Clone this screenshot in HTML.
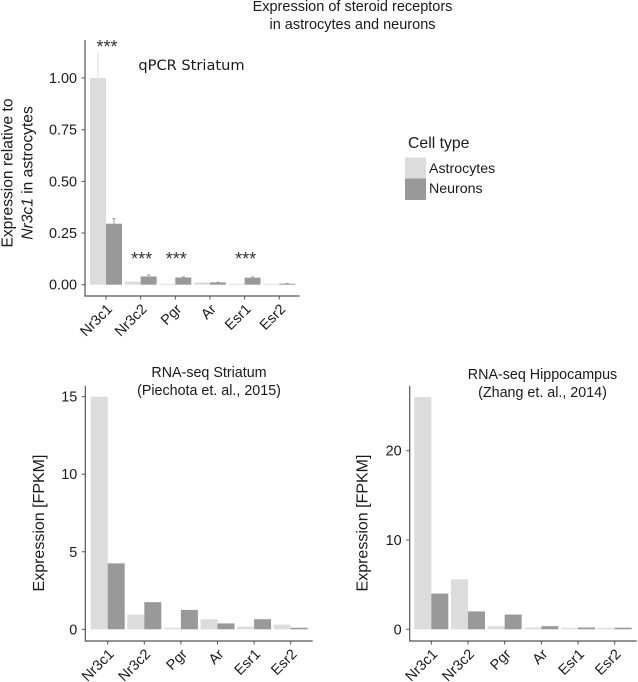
<!DOCTYPE html>
<html>
<head>
<meta charset="utf-8">
<style>
html,body{margin:0;padding:0;background:#fff;}
svg{display:block;}
text{font-family:"Liberation Sans",sans-serif;fill:#1a1a1a;}
</style>
</head>
<body>
<svg id="chart" xmlns="http://www.w3.org/2000/svg" width="638" height="682" viewBox="0 0 638 682">
<g style="filter:blur(0.35px)" id="root">
<text x="352.5" y="11" text-anchor="middle" font-size="14.5">Expression of steroid receptors</text>
<text x="352.5" y="29" text-anchor="middle" font-size="14.5">in astrocytes and neurons</text>

<text x="408" y="148" font-size="15.8">Cell type</text>
<rect x="405" y="157.5" width="21" height="21" fill="#dcdcdc"/>
<rect x="405" y="178.5" width="21" height="21.5" fill="#999999"/>
<text x="429" y="173" font-size="14.2">Astrocytes</text>
<text x="429" y="193" font-size="14.2">Neurons</text>

<text x="191.5" y="70" text-anchor="middle" font-size="14.6" style="font-family:'DejaVu Sans',sans-serif">qPCR Striatum</text>
<text transform="translate(12.5,173) rotate(-90)" text-anchor="middle" font-size="15.6">Expression relative to</text>
<text transform="translate(32.5,173) rotate(-90)" text-anchor="middle" font-size="15.6"><tspan font-style="italic">Nr3c1</tspan> in astrocytes</text>

<text x="209" y="377" text-anchor="middle" font-size="14.3">RNA-seq Striatum</text>
<text x="209" y="395" text-anchor="middle" font-size="14.3">(Piechota et. al., 2015)</text>
<text transform="translate(44,523) rotate(-90)" text-anchor="middle" font-size="16">Expression [FPKM]</text>

<text x="542.5" y="379" text-anchor="middle" font-size="14.3">RNA-seq Hippocampus</text>
<text x="542.5" y="397" text-anchor="middle" font-size="14.3">(Zhang et. al., 2014)</text>
<text transform="translate(367.5,523) rotate(-90)" text-anchor="middle" font-size="16">Expression [FPKM]</text>
</g>
</svg>
<script>
var genes = ['Nr3c1', 'Nr3c2', 'Pgr', 'Ar', 'Esr1', 'Esr2'];

var qpcrAstrocytes = [1.0, 0.015, 0.004, 0.011, 0.004, 0.004];
var qpcrNeurons = [0.295, 0.04, 0.035, 0.011, 0.034, 0.005];
var qpcrAstrocytesErrorTop = [1.13, 0.018, 0.005, 0.012, 0.005, 0.005];
var qpcrNeuronsErrorTop = [0.32, 0.047, 0.038, 0.012, 0.037, 0.006];
var qpcrTicks = ['0.00', '0.25', '0.50', '0.75', '1.00'];
var qpcrStars = ['***', '***', '***', '', '***', ''];
var qpcrStarLevels = [1.165, 0.138, 0.138, 0, 0.138, 0];

var striatumAstrocytes = [15, 0.95, 0.1, 0.65, 0.18, 0.3];
var striatumNeurons = [4.25, 1.75, 1.25, 0.38, 0.65, 0.1];
var striatumTicks = ['0', '5', '10', '15'];

var hippocampusAstrocytes = [26, 5.6, 0.35, 0.2, 0.17, 0.17];
var hippocampusNeurons = [4, 2, 1.65, 0.35, 0.2, 0.18];
var hippocampusTicks = ['0', '10', '20'];

var root = document.getElementById('root');
var NS = 'http://www.w3.org/2000/svg';
var ASTRO = '#dcdcdc';
var NEURON = '#999999';
var AXIS = '#555555';

function node(tag, attrs, parent) {
  var el = document.createElementNS(NS, tag);
  for (var k in attrs) el.setAttribute(k, attrs[k]);
  parent.appendChild(el);
  return el;
}

function drawPanel(p) {
  var g = node('g', {}, root);
  
  

  function xCenter(i) { return p.x0 + p.step * i; }
  function yScale(v) { return p.yZero - p.yPerUnit * v; }

  genes.forEach(function (gene, i) {
    var xc = xCenter(i);
    var a = p.astro[i];
    var n = p.neuron[i];

    if (p.astroErr) {
      var ea = node('line', { x1: xc - p.barW / 2, x2: xc - p.barW / 2, y1: yScale(a), y2: yScale(p.astroErr[i]), stroke: ASTRO, 'stroke-width': 1 }, g);
      
      
      var en = node('line', { x1: xc + p.barW / 2, x2: xc + p.barW / 2, y1: yScale(n), y2: yScale(p.neuronErr[i]), stroke: NEURON, 'stroke-width': 1 }, g);
      
      
      var ec = node('line', { x1: xc + p.barW / 2 - 1.5, x2: xc + p.barW / 2 + 1.5, y1: yScale(p.neuronErr[i]), y2: yScale(p.neuronErr[i]), stroke: NEURON, 'stroke-width': 1 }, g);
      
      
    }

    var ra = node('rect', { x: xc - p.barW, y: yScale(a), width: p.barW, height: p.yPerUnit * a, fill: ASTRO }, g);
    
    
    var rn = node('rect', { x: xc, y: yScale(n), width: p.barW, height: p.yPerUnit * n, fill: NEURON }, g);
    
    

    var t = node('line', { x1: xc, x2: xc, y1: p.axisBottom, y2: p.axisBottom + 3.5, stroke: AXIS, 'stroke-width': 1 }, g);
    
    

    var lab = node('text', { transform: 'translate(' + (xc + 7) + ',' + (p.axisBottom + 14) + ') rotate(-45)', 'text-anchor': 'end', 'font-size': 14.4 }, g);
    lab.textContent = gene;
    
    

    if (p.stars && p.stars[i]) {
      var s = node('text', { x: xc + 1, y: yScale(p.starLevels[i]) + 9, 'text-anchor': 'middle', 'font-size': 18, style: 'fill:#333' }, g);
      s.textContent = p.stars[i];
      
      
    }
  });

  p.ticks.forEach(function (label) {
    var y = yScale(parseFloat(label));
    var tk = node('line', { x1: p.axisX - 3.5, x2: p.axisX, y1: y, y2: y, stroke: AXIS, 'stroke-width': 1 }, g);
    
    
    var tl = node('text', { x: p.axisX - 8, y: y + 5, 'text-anchor': 'end', 'font-size': 14.4 }, g);
    tl.textContent = label;
    
    
  });

  var ya = node('line', { x1: p.axisX, x2: p.axisX, y1: p.axisTop, y2: p.axisBottom + 0.6, stroke: AXIS, 'stroke-width': 1.2 }, g);
  
  
  var xa = node('line', { x1: p.axisX, x2: p.axisRight, y1: p.axisBottom, y2: p.axisBottom, stroke: AXIS, 'stroke-width': 1.2 }, g);
  
  
}

drawPanel({
  name: 'panel-a-qpcr-striatum', x0: 106, step: 34.65, barW: 16, axisX: 85, axisRight: 299.5, axisTop: 40, axisBottom: 296,
  yZero: 284.7, yPerUnit: 206.7, astro: qpcrAstrocytes, neuron: qpcrNeurons,
  astroErr: qpcrAstrocytesErrorTop, neuronErr: qpcrNeuronsErrorTop, ticks: qpcrTicks, stars: qpcrStars, starLevels: qpcrStarLevels
});
drawPanel({
  name: 'panel-b-rnaseq-striatum', x0: 107.7, step: 36.6, barW: 17, axisX: 85.3, axisRight: 312.7, axisTop: 386, axisBottom: 641,
  yZero: 629.3, yPerUnit: 15.51, astro: striatumAstrocytes, neuron: striatumNeurons, ticks: striatumTicks
});
drawPanel({
  name: 'panel-c-rnaseq-hippocampus', x0: 431.3, step: 36.68, barW: 17, axisX: 409.7, axisRight: 636.7, axisTop: 386, axisBottom: 641,
  yZero: 629.3, yPerUnit: 8.93, astro: hippocampusAstrocytes, neuron: hippocampusNeurons, ticks: hippocampusTicks
});
</script>
</body>
</html>
